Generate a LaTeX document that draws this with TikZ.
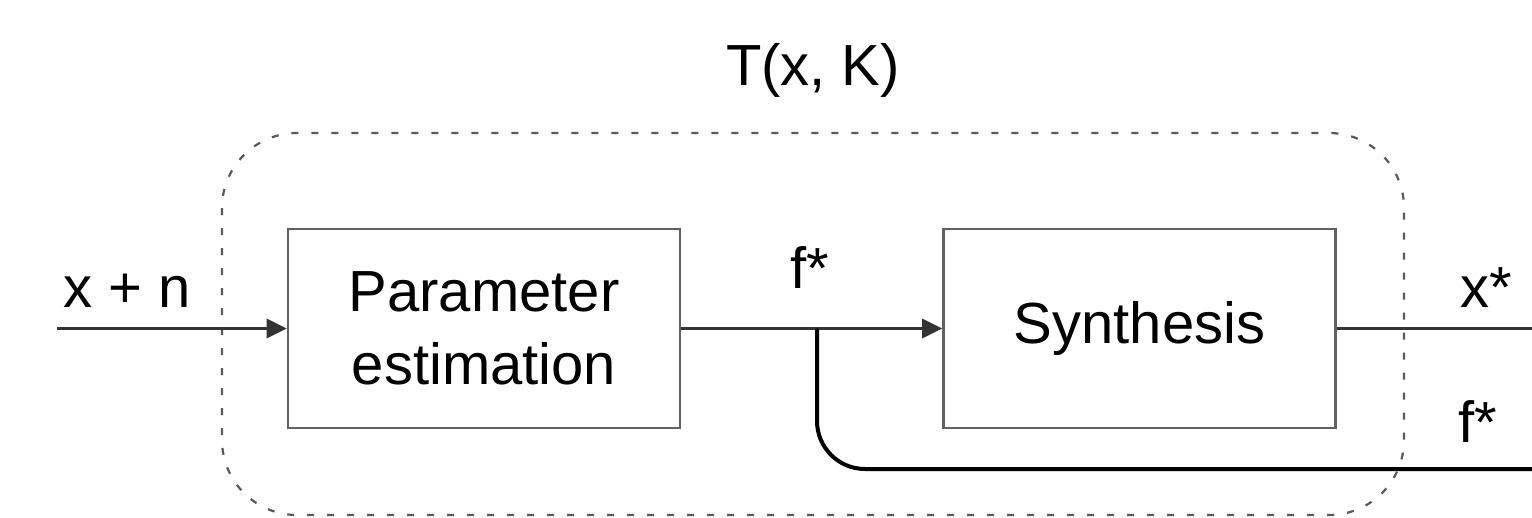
\documentclass[tikz,border=0pt]{standalone}
\usepackage{fontspec}
\setmainfont{Liberation Sans}
\usetikzlibrary{arrows.meta}
\begin{document}
\begin{tikzpicture}[x=1pt,y=-1pt,
  every node/.style={font=\fontsize{58}{73}\selectfont},
  blockbox/.style={draw=black!62, line width=2.6pt, minimum width=392pt, minimum height=199pt, inner sep=0pt, align=center},
  conn/.style={draw=black!80, line width=3pt},
  arr/.style={conn, -{Triangle[length=20pt,width=19pt]}},
  loopline/.style={draw=black, line width=4pt},
  frame/.style={draw=black!65, line width=2.2pt, dash pattern=on 7pt off 13pt, rounded corners=75pt},
  lbl/.style={anchor=base, inner sep=0pt}]
\useasboundingbox (0,0) rectangle (1532,517);
\fill[white] (0,0) rectangle (1532,517);
% dashed enclosure
\draw[frame] (222,133) rectangle (1404,515);
% blocks
\node[blockbox] (pe) at (484,328.5) {Parameter\\estimation};
\node[blockbox] (syn) at (1139.5,328.5) {Synthesis};
% coordinates
\coordinate (in) at (57,328.5);
\coordinate (out) at (1532,328.5);
\coordinate (br) at (817,328.5);
\coordinate (fout) at (1532,469);
% connectors
\draw[arr] (in) -- (pe.west);
\draw[arr] (pe.east) -- (syn.west);
\draw[conn] (syn.east) -- (out);
\draw[loopline, rounded corners=48pt] (br) -- (br |- fout) -- (fout);
% labels
\node[lbl] (lx) at (127,307) {x + n};
\node[lbl] (lf1) at (810,288) {f*};
\node[lbl] (lxs) at (1486,307) {x*};
\node[lbl] (lf2) at (1478,442) {f*};
\node[lbl] (lt) at (813,85) {T(x, K)};
\end{tikzpicture}
\end{document}
